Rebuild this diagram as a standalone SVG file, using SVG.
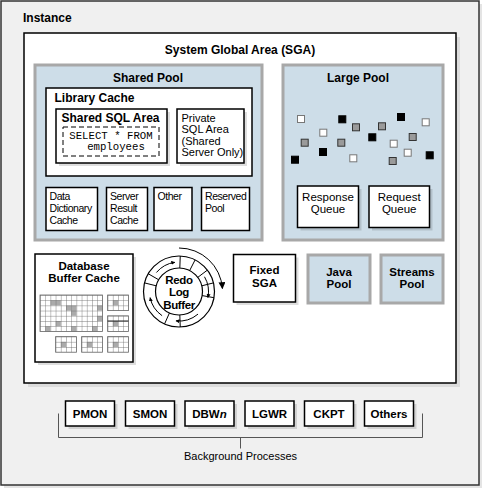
<svg xmlns="http://www.w3.org/2000/svg" width="486" height="488" viewBox="0 0 486 488">
<defs>
<style>
.b12{font-family:"Liberation Sans",Arial,sans-serif;font-weight:bold;font-size:12px;fill:#000}
.b11{font-family:"Liberation Sans",Arial,sans-serif;font-weight:bold;font-size:11.5px;fill:#000}
.r11{font-family:"Liberation Sans",Arial,sans-serif;font-size:11px;fill:#000}
.n11{font-family:"Liberation Sans",Arial,sans-serif;font-size:10.5px;letter-spacing:-0.45px;fill:#000}
.r12{font-family:"Liberation Sans",Arial,sans-serif;font-size:11.5px;fill:#000}
.mono{font-family:"Liberation Mono","Courier New",monospace;font-size:10.7px;fill:#000}
.box{fill:#fff;stroke:#000;stroke-width:1.5}
.pool{fill:#cddde8;stroke:#a8a8a8;stroke-width:3}
.sh{fill:#000;opacity:0.13}
.sw{fill:#fff;stroke:#777;stroke-width:1}
.sg{fill:#9a9a9a;stroke:#333;stroke-width:1}
.sk{fill:#000;stroke:#000;stroke-width:1}
.gr{fill:url(#g5);stroke:#666;stroke-width:0.8}
.cell{fill:#aaa}
.ring{fill:none;stroke:#000;stroke-width:1.2}
.brk{fill:none;stroke:#555;stroke-width:1}
</style>
<marker id="ah" viewBox="0 0 10 10" refX="9" refY="5" markerWidth="4" markerHeight="4" orient="auto" markerUnits="userSpaceOnUse">
<path d="M0,0 L10,5 L0,10 z" fill="#000"/>
</marker>
<marker id="ahb" viewBox="0 0 10 10" refX="9" refY="5" markerWidth="7" markerHeight="7" orient="auto" markerUnits="userSpaceOnUse">
<path d="M0,0 L10,5 L0,10 z" fill="#000"/>
</marker>
<pattern id="g5" x="40" y="295" width="5.2" height="5.2" patternUnits="userSpaceOnUse">
<path d="M0,0 H5.2 M0,0 V5.2" stroke="#666" stroke-width="0.8" fill="none"/>
</pattern>
</defs>

<g id="instance">
<rect x="4" y="4" width="478" height="484" fill="#e4e4e4"/>
<rect x="1" y="1" width="478" height="484" fill="#f0f0f0" stroke="#333" stroke-width="1.5"/>
<text class="b12" x="23" y="21.5">Instance</text>
</g>

<g id="sga">
<rect x="28" y="37" width="432" height="350" fill="#dcdcdc"/>
<rect x="24" y="33" width="432" height="350" class="box"/>
<text class="b12" x="240" y="54" text-anchor="middle">System Global Area (SGA)</text>
</g>

<g id="shared-pool">
<rect x="35" y="65" width="227" height="175" class="pool"/>
<text class="b12" x="148" y="82" text-anchor="middle">Shared Pool</text>
</g>

<g id="library-cache">
<rect x="46" y="88" width="206" height="88" class="box"/>
<text class="b12" x="54.5" y="102">Library Cache</text>
</g>

<g id="shared-sql-area">
<rect x="59" y="112" width="111" height="54" class="sh"/>
<rect x="56" y="109" width="111" height="54" class="box"/>
<text class="b12" x="61.5" y="122">Shared SQL Area</text>
<rect x="63" y="127" width="96" height="29" fill="none" stroke="#000" stroke-width="1" stroke-dasharray="5,3"/>
<text class="mono" x="111" y="139" text-anchor="middle">SELECT * FROM</text>
<text class="mono" x="116" y="149.5" text-anchor="middle">employees</text>
</g>

<g id="private-sql-area">
<rect x="180" y="112" width="67" height="54" class="sh"/>
<rect x="177" y="109" width="67" height="54" class="box"/>
<text class="r11" x="181.5" y="121.5">Private</text>
<text class="r11" x="181.5" y="133">SQL Area</text>
<text class="r11" x="181.5" y="144.5">(Shared</text>
<text class="r11" x="181.5" y="156">Server Only)</text>
</g>

<g id="data-dictionary-cache">
<rect x="46" y="187.5" width="51.5" height="43" class="box"/>
<text class="n11" x="49.5" y="200">Data</text>
<text class="n11" x="49.5" y="212">Dictionary</text>
<text class="n11" x="49.5" y="224">Cache</text>
</g>

<g id="server-result-cache">
<rect x="106.5" y="187.5" width="41" height="43" class="box"/>
<text class="n11" x="110" y="200">Server</text>
<text class="n11" x="110" y="212">Result</text>
<text class="n11" x="110" y="224">Cache</text>
</g>

<g id="other">
<rect x="154" y="187.5" width="38" height="43" class="box"/>
<text class="n11" x="157.5" y="200">Other</text>
</g>

<g id="reserved-pool">
<rect x="201.5" y="187.5" width="48" height="43" class="box"/>
<text class="n11" x="205" y="200">Reserved</text>
<text class="n11" x="205" y="212">Pool</text>
</g>

<g id="large-pool">
<rect x="283" y="65" width="160" height="175" class="pool"/>
<text class="b12" x="358" y="82" text-anchor="middle">Large Pool</text>
<rect x="297.5" y="115.5" width="7" height="7" class="sw"/>
<rect x="422.2" y="118.8" width="7" height="7" class="sw"/>
<rect x="319.8" y="129.2" width="7" height="7" class="sw"/>
<rect x="390.2" y="140.2" width="7" height="7" class="sw"/>
<rect x="404.2" y="149.2" width="7" height="7" class="sw"/>
<rect x="349.8" y="154.8" width="7" height="7" class="sw"/>
<rect x="338.8" y="115.8" width="7" height="7" class="sk"/>
<rect x="397.5" y="113.5" width="7" height="7" class="sk"/>
<rect x="368.8" y="133.8" width="7" height="7" class="sk"/>
<rect x="319.5" y="148.5" width="7" height="7" class="sk"/>
<rect x="426.2" y="151.8" width="7" height="7" class="sk"/>
<rect x="291.5" y="156.2" width="7" height="7" class="sk"/>
<rect x="352.5" y="123.8" width="7" height="7" class="sg"/>
<rect x="378.5" y="122.8" width="7" height="7" class="sg"/>
<rect x="409.2" y="133.5" width="7" height="7" class="sg"/>
<rect x="301.2" y="139.2" width="7" height="7" class="sg"/>
<rect x="337.8" y="139.2" width="7" height="7" class="sg"/>
<rect x="389.2" y="157.5" width="7" height="7" class="sg"/>
</g>

<g id="response-queue">
<rect x="300.5" y="189" width="61" height="41.5" class="sh"/>
<rect x="297.5" y="186" width="61" height="41.5" class="box"/>
<text class="r12" x="328" y="200.5" text-anchor="middle">Response</text>
<text class="r12" x="328" y="213" text-anchor="middle">Queue</text>
</g>

<g id="request-queue">
<rect x="372" y="189" width="60.5" height="41.5" class="sh"/>
<rect x="369" y="186" width="60.5" height="41.5" class="box"/>
<text class="r12" x="399.2" y="200.5" text-anchor="middle">Request</text>
<text class="r12" x="399.2" y="213" text-anchor="middle">Queue</text>
</g>

<g id="database-buffer-cache">
<rect x="38" y="257" width="98" height="108" class="sh"/>
<rect x="35" y="254" width="98" height="108" class="box"/>
<text class="b11" x="84" y="270" text-anchor="middle">Database</text>
<text class="b11" x="84" y="282" text-anchor="middle">Buffer Cache</text>
<rect x="50.4" y="300.2" width="10.4" height="5.2" class="cell"/>
<rect x="66" y="305.4" width="5.2" height="5.2" class="cell"/>
<rect x="71.2" y="305.4" width="5.2" height="10.4" class="cell"/>
<rect x="97.2" y="305.4" width="5.2" height="5.2" class="cell"/>
<rect x="97.2" y="315.8" width="5.2" height="5.2" class="cell"/>
<rect x="55.6" y="321" width="5.2" height="5.2" class="cell"/>
<rect x="45.2" y="326.2" width="5.2" height="5.2" class="cell"/>
<rect x="71.2" y="326.2" width="5.2" height="5.2" class="cell"/>
<rect x="92" y="326.2" width="5.2" height="5.2" class="cell"/>
<rect x="40" y="295" width="62.4" height="36.4" class="gr"/>
<rect x="112.8" y="300.2" width="5.2" height="5.2" class="cell"/>
<rect x="107.6" y="295" width="20.8" height="15.6" class="gr"/>
<rect x="112.8" y="321" width="5.2" height="5.2" class="cell"/>
<rect x="107.6" y="315.8" width="20.8" height="15.6" class="gr"/>
<line x1="107.6" y1="321" x2="128.4" y2="321" stroke="#222" stroke-width="1"/>
<rect x="60.8" y="341.8" width="5.2" height="5.2" class="cell"/>
<rect x="55.6" y="336.6" width="20.8" height="15.6" class="gr"/>
<rect x="86.8" y="341.8" width="5.2" height="5.2" class="cell"/>
<rect x="81.6" y="336.6" width="20.8" height="15.6" class="gr"/>
<rect x="112.8" y="341.8" width="5.2" height="5.2" class="cell"/>
<rect x="107.6" y="336.6" width="20.8" height="15.6" class="gr"/>
</g>

<g id="redo-log-buffer">
<circle cx="179" cy="291.5" r="35.5" fill="#fff" class="ring"/>
<circle cx="179" cy="291.5" r="23.5" class="ring"/>
<g stroke="#000" stroke-width="1">
<line x1="179.82" y1="268.01" x2="180.24" y2="256.02"/>
<line x1="189.67" y1="270.56" x2="195.12" y2="259.87"/>
<line x1="197.77" y1="277.36" x2="207.36" y2="270.14"/>
<line x1="201.80" y1="285.81" x2="213.44" y2="282.91"/>
<line x1="202.14" y1="295.59" x2="213.96" y2="297.68"/>
<line x1="179.82" y1="314.99" x2="180.24" y2="326.98"/>
<line x1="169.44" y1="312.97" x2="164.56" y2="323.94"/>
<line x1="156.20" y1="285.81" x2="144.56" y2="282.91"/>
<line x1="158.65" y1="279.75" x2="148.26" y2="273.75"/>
</g>
<g fill="none" stroke="#000" stroke-width="1" marker-end="url(#ah)">
<path d="M156.4,272.5 A29.5,29.5 0 0 1 174.9,262.3"/>
<path d="M204.5,276.75 A29.5,29.5 0 0 1 207.9,297.6"/>
<path d="M198.0,314.1 A29.5,29.5 0 0 1 175.9,320.9"/>
<path d="M162.1,315.7 A29.5,29.5 0 0 1 150.1,297.6"/>
</g>
<text class="b11" x="179" y="284" text-anchor="middle" letter-spacing="-0.3">Redo</text>
<text class="b11" x="179" y="296.3" text-anchor="middle" letter-spacing="-0.3">Log</text>
<text class="b11" x="179" y="308.6" text-anchor="middle" letter-spacing="-0.4">Buffer</text>
</g>

<g id="fixed-sga">
<rect x="236.5" y="257.5" width="62" height="47.5" class="sh"/>
<rect x="233.5" y="254.5" width="62" height="47.5" class="box"/>
<text class="b11" x="264.5" y="274" text-anchor="middle">Fixed</text>
<text class="b11" x="264.5" y="286.5" text-anchor="middle">SGA</text>
</g>

<g id="java-pool">
<rect x="308" y="255" width="62" height="48" class="pool"/>
<text class="b11" x="339" y="275.5" text-anchor="middle">Java</text>
<text class="b11" x="339" y="287.5" text-anchor="middle">Pool</text>
</g>

<g id="streams-pool">
<rect x="381" y="255" width="62" height="48" class="pool"/>
<text class="b11" x="412" y="275.5" text-anchor="middle">Streams</text>
<text class="b11" x="412" y="287.5" text-anchor="middle">Pool</text>
</g>

<g id="pmon">
<rect x="68.5" y="404" width="49" height="25" class="sh"/>
<rect x="65.5" y="401" width="49" height="25" class="box"/>
<text class="b11" x="90" y="417.5" text-anchor="middle">PMON</text>
</g>
<g id="smon">
<rect x="128.5" y="404" width="49" height="25" class="sh"/>
<rect x="125.5" y="401" width="49" height="25" class="box"/>
<text class="b11" x="150" y="417.5" text-anchor="middle">SMON</text>
</g>
<g id="dbwn">
<rect x="188" y="404" width="49" height="25" class="sh"/>
<rect x="185" y="401" width="49" height="25" class="box"/>
<text class="b11" x="209.5" y="417.5" text-anchor="middle">DBW<tspan font-style="italic">n</tspan></text>
</g>
<g id="lgwr">
<rect x="248" y="404" width="49" height="25" class="sh"/>
<rect x="245" y="401" width="49" height="25" class="box"/>
<text class="b11" x="269.5" y="417.5" text-anchor="middle">LGWR</text>
</g>
<g id="ckpt">
<rect x="307.5" y="404" width="49" height="25" class="sh"/>
<rect x="304.5" y="401" width="49" height="25" class="box"/>
<text class="b11" x="329" y="417.5" text-anchor="middle">CKPT</text>
</g>
<g id="others">
<rect x="367.5" y="404" width="49" height="25" class="sh"/>
<rect x="364.5" y="401" width="49" height="25" class="box"/>
<text class="b11" x="389" y="417.5" text-anchor="middle">Others</text>
</g>

<g id="connectors">
<path d="M179,248 A43.5,43.5 0 0 1 222.4,288.5" fill="none" stroke="#000" stroke-width="1" marker-end="url(#ahb)"/>
<path class="brk" d="M58.5,413.5 V437.5 H422.5 V413.5 M240.5,437.5 V448.5"/>
</g>

<g id="background-processes-label">
<text class="r11" x="240.5" y="460" text-anchor="middle" font-size="11.5px">Background Processes</text>
</g>
</svg>
